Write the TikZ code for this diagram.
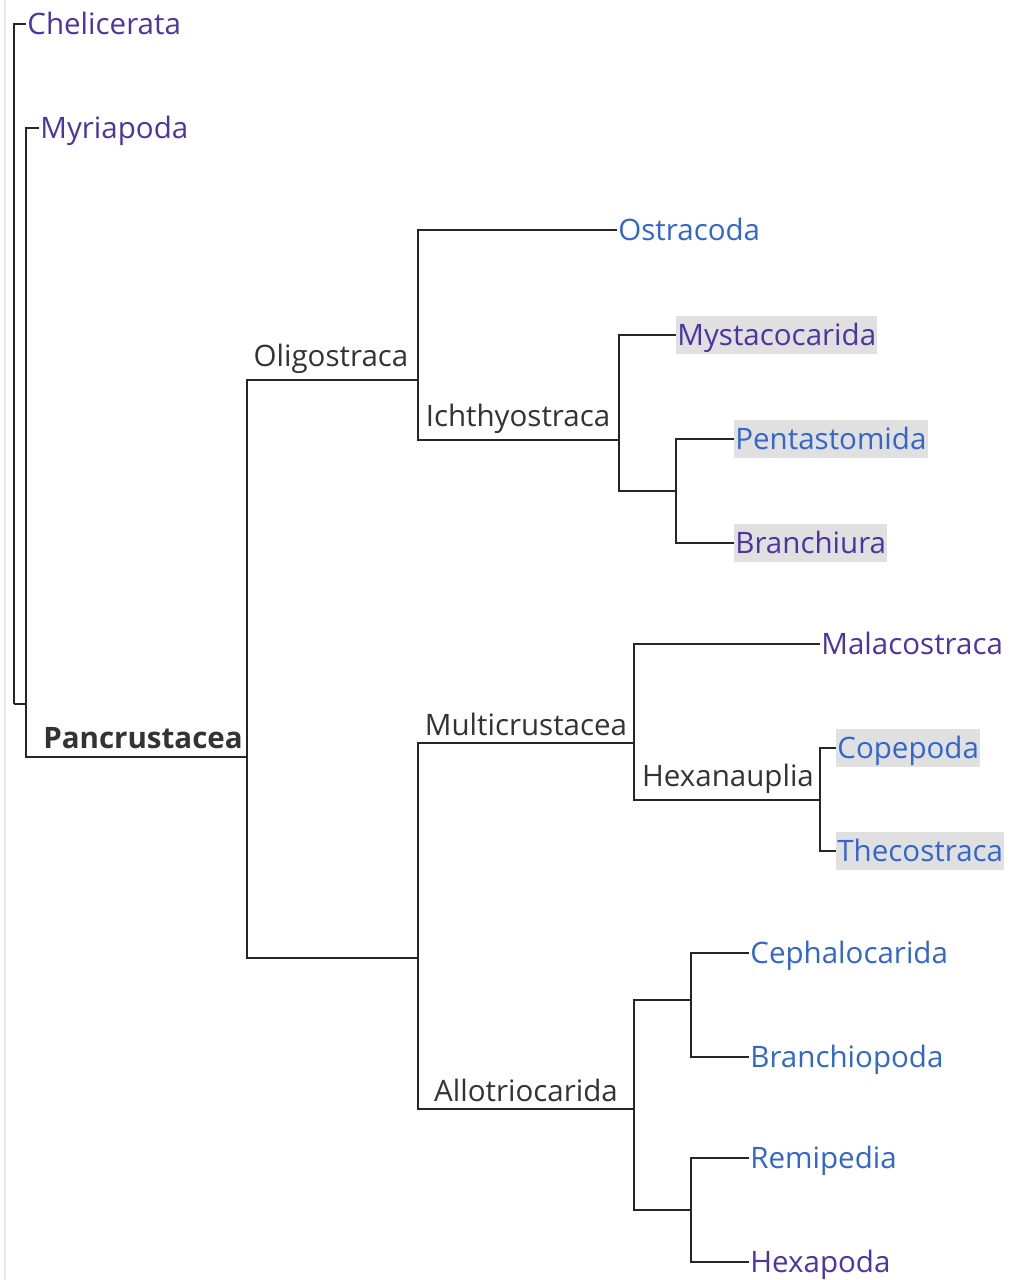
\documentclass[tikz,border=0pt]{standalone}
\usepackage{fontspec}
\setmainfont{Open Sans}
\usepackage{xcolor}
\usetikzlibrary{positioning, calc}
\definecolor{linkblue}{RGB}{51, 102, 204}
\definecolor{linkvisit}{RGB}{76, 52, 162}
\definecolor{cladegray}{RGB}{51, 51, 51}
\definecolor{markgray}{RGB}{224, 224, 224}

\begin{document}
\begin{tikzpicture}[x=0.02cm, y=-0.02cm,
        font=\fontsize{16.8}{19}\selectfont,
        branch/.style={draw=black!85, line width=1.15pt},
        taxon/.style={anchor=west, inner xsep=0.6pt, inner ysep=1.6pt, text height=15pt, text depth=3.6pt},
        newtaxon/.style={taxon, text=linkblue},
        oldtaxon/.style={taxon, text=linkvisit},
        marked/.style={fill=markgray},
        cladename/.style={anchor=south, text=cladegray, inner sep=2pt}]
        \useasboundingbox (0,0) rectangle (1010,1280);
        \fill[black!9] (4,0) rectangle (6,1280);

        % inner junctions
        \coordinate (root) at (14,704);
        \coordinate (arth) at (26,704);
        \coordinate (pan) at (247,757);
        \coordinate (oli) at (418,380);
        \coordinate (ich) at (619,440);
        \coordinate (penbra) at (676,491);
        \coordinate (rest) at (418,958);
        \coordinate (mul) at (634,743);
        \coordinate (hex) at (820,800);
        \coordinate (allo) at (634,1109);
        \coordinate (cepbrp) at (691,1000);
        \coordinate (remhexa) at (691,1210);

        % tips
        \node[oldtaxon] (chel) at (26,24) {Chelicerata};
        \node[oldtaxon] (myr) at (39,128) {Myriapoda};
        \node[newtaxon] (ost) at (617,230) {Ostracoda};
        \node[oldtaxon, marked] (mys) at (676,335) {Mystacocarida};
        \node[newtaxon, marked] (pen) at (734,439) {Pentastomida};
        \node[oldtaxon, marked] (bra) at (734,543) {Branchiura};
        \node[oldtaxon] (mal) at (820,644) {Malacostraca};
        \node[newtaxon, marked] (cop) at (836,748) {Copepoda};
        \node[newtaxon, marked] (the) at (836,851) {Thecostraca};
        \node[newtaxon] (cep) at (749,953) {Cephalocarida};
        \node[newtaxon] (brp) at (749,1057) {Branchiopoda};
        \node[newtaxon] (rem) at (749,1158) {Remipedia};
        \node[oldtaxon] (hexa) at (749,1262) {Hexapoda};

        % branches
        \draw[branch] (root) |- (chel.west);
        \draw[branch] (root) -- (arth);
        \draw[branch] (arth) |- (myr.west);
        \draw[branch] (arth) |- (pan);
        \draw[branch] (pan) |- (oli);
        \draw[branch] (pan) |- (rest);
        \draw[branch] (oli) |- (ost.west);
        \draw[branch] (oli) |- (ich);
        \draw[branch] (ich) |- (mys.west);
        \draw[branch] (ich) |- (penbra);
        \draw[branch] (penbra) |- (pen.west);
        \draw[branch] (penbra) |- (bra.west);
        \draw[branch] (rest) |- (mul);
        \draw[branch] (rest) |- (allo);
        \draw[branch] (mul) |- (mal.west);
        \draw[branch] (mul) |- (hex);
        \draw[branch] (hex) |- (cop.west);
        \draw[branch] (hex) |- (the.west);
        \draw[branch] (allo) |- (cepbrp);
        \draw[branch] (allo) |- (remhexa);
        \draw[branch] (cepbrp) |- (cep.west);
        \draw[branch] (cepbrp) |- (brp.west);
        \draw[branch] (remhexa) |- (rem.west);
        \draw[branch] (remhexa) |- (hexa.west);

        % clade names
        \node[cladename] (panname) at (143,753) {\textbf{Pancrustacea}};
        \node[cladename] (oliname) at (331,377) {Oligostraca};
        \node[cladename] (ichname) at (518,437) {Ichthyostraca};
        \node[cladename] (mulname) at (526,740) {Multicrustacea};
        \node[cladename] (hexname) at (728,797) {Hexanauplia};
        \node[cladename] (alloname) at (526,1106) {Allotriocarida};
\end{tikzpicture}
\end{document}
